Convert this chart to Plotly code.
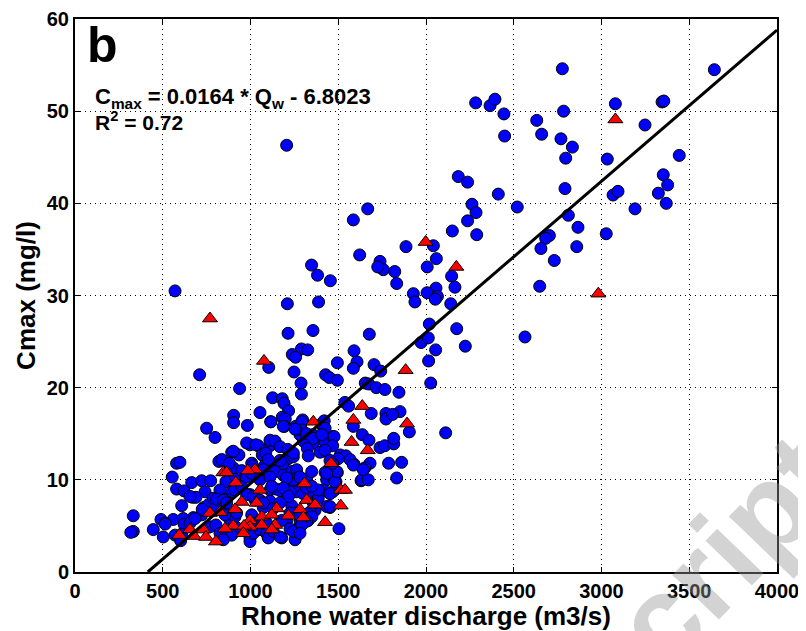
import plotly.graph_objects as go

# ---------------- data ----------------
blue_x = [2777, 3643, 2283, 2365, 2393, 2444, 2448, 2631, 2659, 2784, 2769, 2834, 2796, 3079, 3248, 3345, 3355,
          3033, 3443, 3352, 3377, 3324, 3369, 3066, 3094, 3191, 3027, 2792, 2811, 2866, 2859, 2703, 2682, 2655,
          2731, 2648, 2520, 2412, 2184, 2237, 2262, 2285, 2237, 2150, 2289, 1886, 2042, 2059, 2007, 2146, 2165,
          2057, 2006, 1928, 1937, 2065, 2053, 2141, 2019, 2175, 1738, 1757, 1822, 1833,
          1206, 1668, 1586, 1622, 1725, 1348, 1382, 1455,
          1972, 2013, 2015, 2055, 2027, 1846, 1852, 2112, 2224, 2564,
          710, 938, 1104, 1210, 1388, 1214, 1356, 1677, 1290, 1326, 1238, 1257, 1248, 1288, 1290, 1495, 1590,
          1607, 1586, 1704, 1742, 1428, 1449, 1495, 1654, 1673, 1717, 1766, 1126, 1181, 1191, 1217, 1054, 904,
          904, 982, 1115, 1181, 1198, 1193, 1297, 1538, 1559, 1688, 1772, 1772, 750, 1259, 1409, 570,
          1810, 1905, 1586, 1637, 1675, 1738, 1765, 1816, 1816, 1590, 1681, 1787, 1861, 1652,
          1630, 1512, 1544, 1500, 1425, 1453, 1495, 1487, 1468, 1453, 1504, 1411, 1301, 1282, 1257, 1358, 1355,
          1292, 1187, 1117, 1425, 1468, 1324, 1396, 1044, 1111, 1067, 997, 1216, 1244, 1162, 1187, 1007, 1083,
          1140, 1187, 1235, 1263, 1282, 1320, 1349, 1111, 1145, 1172, 1235, 1263, 1301, 1358, 1396, 1235, 1263,
          1329, 1282, 1368, 1434, 1073, 1026, 997, 1092, 1178, 1254, 997, 1206, 1282, 1329,
          798, 978, 1031, 893, 934, 820, 883, 579, 598, 554, 665, 722, 773, 579, 860, 912, 741, 794, 826, 893,
          670, 689, 608, 735, 760, 817, 855, 845, 332, 332, 490, 560, 617, 674, 722, 446, 503, 513, 570, 769,
          803, 826, 860, 921, 893, 845, 997, 879, 912, 798, 621, 655,
          1407, 1420, 1292, 1254, 1320, 1358, 1425, 1406, 1476, 1468, 1425, 1087, 1111, 1140, 902, 1168, 1212,
          1244, 1101, 1168, 318, 514, 621, 655, 684, 608, 602, 725, 788, 807, 845, 864, 912, 950, 978, 1016,
          1054, 902, 836, 879, 950, 978, 1007, 1013, 1054, 1073, 1111, 855, 921, 1007, 1054, 1092, 1013, 1016,
          1054, 1092, 1101, 1130, 1178, 1225, 1282, 1225, 1244, 1168, 1453, 1358, 1386, 1339, 1349, 1320, 1292,
          1282, 1434, 1472, 1415, 1453, 1386, 1481, 1491, 1434, 1468, 1453, 1259, 1244, 1282, 1206, 1225, 1320,
          1349, 1121, 1187, 1216, 1111, 1073, 1130, 1168, 1634, 1671, 1567, 1586, 1643, 1833]
blue_y = [54.6, 54.5, 50.9, 50.6, 51.3, 49.7, 47.3, 49.0, 47.5, 50.0, 47.0, 46.1, 44.9, 50.8, 48.5, 51.0, 51.1,
          44.8, 45.2, 43.1, 42.0, 41.1, 40.0, 40.9, 41.3, 39.4, 36.7, 41.6, 38.7, 37.4, 35.3, 36.5, 36.2, 35.1,
          33.8, 31.0, 39.6, 41.0, 42.9, 42.3, 39.9, 39.0, 38.1, 37.0, 36.6, 35.3, 35.4, 34.0, 33.1, 32.1, 30.9,
          30.8, 30.3, 30.2, 29.3, 29.9, 29.6, 29.1, 26.9, 26.4, 33.7, 32.8, 32.6, 31.3,
          46.3, 39.4, 38.2, 34.4, 33.1, 33.3, 32.2, 31.6,
          24.9, 25.4, 22.9, 24.1, 20.5, 19.5, 17.4, 15.1, 24.5, 25.5,
          21.4, 19.9, 22.2, 29.1, 29.3, 25.9, 26.2, 25.8, 24.2, 24.1, 23.6, 23.3, 21.7, 20.5, 19.3, 22.7, 24.0,
          22.8, 22.1, 22.5, 21.8, 21.4, 21.1, 20.8, 20.5, 20.4, 20.0, 19.8, 18.9, 18.8, 18.3, 17.5, 17.3, 17.0,
          16.2, 15.9, 16.3, 16.8, 16.6, 15.8, 16.5, 18.4, 18.0, 17.2, 17.2, 16.6, 15.6, 15.6, 15.9, 30.5,
          17.1, 15.2, 15.8, 14.9, 14.3, 13.5, 13.7, 13.9, 14.5, 11.7, 11.8, 11.8, 11.9, 11.3,
          9.9, 12.7, 12.6, 12.3, 10.8, 10.8, 10.8, 9.8, 8.7, 7.0, 4.7, 13.1, 14.2, 14.9, 15.8, 14.0, 14.9,
          16.3, 15.8, 16.3, 14.1, 14.7, 13.4, 13.0, 13.7, 13.7, 12.7, 13.8, 12.3, 12.5, 11.8, 11.4, 11.8, 11.6,
          10.9, 10.5, 10.9, 11.1, 10.2, 10.1, 10.9, 8.9, 9.0, 8.8, 9.4, 8.7, 8.5, 8.5, 8.6, 7.2, 6.4,
          5.6, 5.0, 6.7, 7.1, 7.0, 7.8, 8.4, 4.2, 3.7, 3.5, 3.7, 5.6, 5.6, 12.6,
          14.6, 14.0, 13.8, 13.0, 12.7, 12.0, 11.6, 11.8, 11.9, 10.3, 9.7, 9.9, 9.9, 9.0, 9.8, 10.4, 8.7, 7.9,
          8.9, 8.7, 8.1, 8.1, 7.2, 7.0, 7.3, 7.2, 7.9, 6.9, 6.1, 4.4, 5.7, 5.7, 5.8, 5.9, 6.2, 4.6, 3.8, 5.3,
          4.0, 4.9, 5.1, 4.2, 4.4, 4.8, 4.0, 3.5, 3.3, 5.8, 6.0, 7.0, 8.8, 8.2,
          16.1, 16.4, 15.4, 15.5, 15.0, 14.5, 15.6, 14.9, 14.7, 13.7, 13.2, 12.9, 14.3, 14.2, 13.1, 13.6, 13.3,
          12.9, 12.2, 12.1, 4.3, 5.2, 5.2, 5.3, 5.8, 4.1, 3.4, 6.8, 8.0, 7.9, 7.8, 7.5, 8.9, 9.3, 8.4, 8.2,
          7.8, 11.3, 12.2, 11.8, 11.0, 10.3, 10.7, 11.5, 10.0, 11.1, 10.3, 6.2, 6.4, 6.2, 5.6, 5.3, 5.0, 4.2,
          4.6, 4.2, 3.7, 4.4, 5.6, 6.4, 6.2, 4.7, 4.4, 3.8, 7.1, 7.5, 8.0, 6.5, 6.0, 5.5, 5.1,
          4.2, 10.0, 10.2, 8.9, 8.5, 8.9, 9.8, 10.9, 10.7, 11.8, 12.1, 10.2, 10.0, 10.3, 10.2, 8.7, 9.1,
          9.3, 9.3, 9.1, 8.2, 7.7, 7.5, 6.9, 7.5, 10.0, 10.0, 12.2, 11.6, 11.1, 10.2]

red_x = [3079, 2982, 1998, 2173, 769, 1077, 1884, 1637, 1586, 1358, 1892, 1576, 1668, 1459, 1514, 1538,
         1514, 1425, 1307, 1054, 1026, 1320, 1368, 1149, 1216, 1282, 1301, 1064, 1064, 1121, 1140, 1121,
         997, 997, 845, 864, 984, 916, 950, 1035, 912, 769, 826, 594, 655, 731, 678, 746, 803, 902, 855,
         963, 959]
red_y = [49.1, 30.2, 35.8, 33.1, 27.5, 22.9, 21.9, 18.0, 16.5, 16.3, 16.1, 14.1, 13.2, 11.8, 8.9, 8.9,
         7.2, 5.4, 9.6, 8.9, 11.1, 7.8, 7.3, 6.9, 6.1, 6.8, 5.9, 6.0, 5.1, 6.2, 5.1, 4.6,
         5.6, 4.9, 10.8, 10.8, 11.0, 9.7, 7.6, 7.5, 6.8, 6.4, 6.5, 4.0, 4.6, 4.6, 3.9, 3.8, 3.3, 5.0, 4.7,
         5.0, 4.2]

slope = 0.0164
intercept = -6.8023
r2 = 0.72
x_ticks = [0, 500, 1000, 1500, 2000, 2500, 3000, 3500, 4000]
y_ticks = [0, 10, 20, 30, 40, 50, 60]

# regression line from y=0 to the right edge
line_x = [-intercept / slope, 4000]
line_y = [slope * v + intercept for v in line_x]

FONT = "Arial, Liberation Sans, sans-serif"

fig = go.Figure()
fig.add_trace(go.Scatter(x=blue_x, y=blue_y, mode="markers",
                         marker=dict(symbol="circle", size=12, color="#0000ff",
                                     line=dict(color="black", width=1)),
                         showlegend=False))
fig.add_trace(go.Scatter(x=red_x, y=red_y, mode="markers",
                         marker=dict(symbol="triangle-up", size=13, color="#ff0000",
                                     line=dict(color="black", width=1)),
                         showlegend=False))
fig.add_trace(go.Scatter(x=line_x, y=line_y, mode="lines",
                         line=dict(color="black", width=3), showlegend=False))

axis_common = dict(showline=True, linecolor="black", linewidth=2, mirror="ticks",
                   ticks="inside", ticklen=5, tickwidth=1, tickcolor="black",
                   showgrid=True, gridcolor="black", gridwidth=1, griddash="1px,4px",
                   zeroline=False, automargin=False,
                   tickfont=dict(family=FONT, size=20, color="black"))

fig.update_xaxes(range=[0, 4000], tickvals=x_ticks, ticktext=[f"<b>{v}</b>" for v in x_ticks],
                 title=dict(text="<b>Rhone water discharge (m3/s)</b>", standoff=6,
                            font=dict(family=FONT, size=26, color="black")),
                 **axis_common)
fig.update_yaxes(range=[0, 60], tickvals=y_ticks, ticktext=[f"<b>{v}</b>" for v in y_ticks],
                 title=dict(text="<b>Cmax (mg/l)</b>", standoff=4,
                            font=dict(family=FONT, size=26, color="black")),
                 **axis_common)

# faint watermark in the lower-right corner
fig.add_annotation(xref="paper", yref="paper", x=0.739, y=-0.212, xanchor="center", yanchor="middle",
                   text="<b>Manuscript</b>", textangle=-46, showarrow=False,
                   font=dict(family=FONT, size=122, color="rgba(150,150,150,0.42)"))
fig.add_annotation(xref="paper", yref="paper", x=0.014, y=1.008, xanchor="left", yanchor="top",
                   text="<b>b</b>", showarrow=False,
                   font=dict(family=FONT, size=50, color="black"))
fig.add_annotation(xref="paper", yref="paper", x=0.025, y=0.858, xanchor="left", yanchor="middle",
                   text=f"<b>C<sub>max</sub> = {slope:.4f} * Q<sub>w</sub> - {abs(intercept):.4f}</b>",
                   showarrow=False, font=dict(family=FONT, size=22, color="black"))
fig.add_annotation(xref="paper", yref="paper", x=0.025, y=0.816, xanchor="left", yanchor="middle",
                   text=f"<b>R<sup>2</sup> = {r2:.2f}</b>",
                   showarrow=False, font=dict(family=FONT, size=21, color="black"))

# the page body has an 8px margin, so the figure is offset by 8px right and down
fig.update_layout(width=798, height=623, margin=dict(l=67, r=29, t=11, b=59),
                  plot_bgcolor="white", paper_bgcolor="white")

fig.write_html("out.html")
